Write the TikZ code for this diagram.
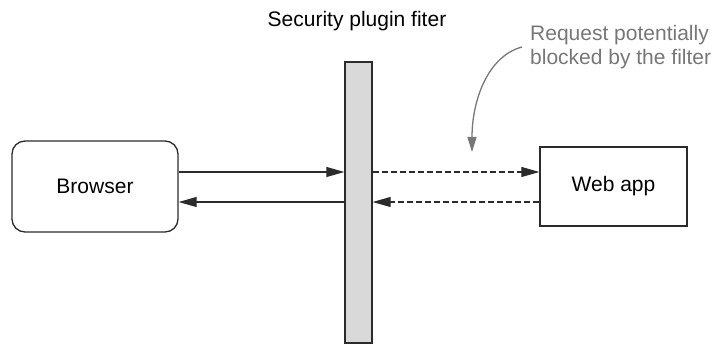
\documentclass[tikz,border=0pt]{standalone}
\usepackage{fontspec}
\setmainfont{Liberation Sans}
\usetikzlibrary{arrows.meta}
\definecolor{ink}{HTML}{2B2B2B}
\definecolor{note}{HTML}{777777}
\definecolor{barfill}{HTML}{D9D9D9}
\tikzset{
  box/.style={draw=ink, line width=1.3pt, inner sep=0pt, font=\fontsize{21}{24}\selectfont},
  flow/.style={draw=ink, line width=1.1pt, -{Triangle[length=18pt,width=10pt]}},
  dflow/.style={flow, dash pattern=on 6pt off 3pt},
  notearrow/.style={draw=note, line width=1.3pt, -{Triangle[length=15pt,width=9pt]}},
}
\begin{document}
\begin{tikzpicture}[x=1pt,y=-1pt]
\useasboundingbox (0,0) rectangle (716,347);
\node[box, rounded corners=13pt, minimum width=166pt, minimum height=91pt] (browser) at (95,186.5) {Browser};
\node[box, fill=barfill, minimum width=27pt, minimum height=281pt] (filter) at (358.5,202.5) {};
\node[box, minimum width=147pt, minimum height=79pt] (webapp) at (613.5,186.5) {Web app};
\node[font=\fontsize{21}{24}\selectfont, anchor=base, inner sep=0pt] (title) at (357,27) {Security plugin fiter};
\node[font=\fontsize{21}{24}\selectfont, text=note, anchor=base west, inner sep=0pt, align=left] (note) at (530,41) {Request potentially};
\node[font=\fontsize{21}{24}\selectfont, text=note, anchor=base west, inner sep=0pt, align=left] (note2) at (530,65) {blocked by the filter};
\coordinate (notestart) at (522,47);
\coordinate (notetip) at (472,152);
\draw[flow] ([yshift=14.5pt]browser.east) -- ([yshift=14.5pt]browser.east -| filter.west);
\draw[flow] ([yshift=-15.5pt]browser.east -| filter.west) -- ([yshift=-15.5pt]browser.east);
\draw[dflow] ([yshift=14.5pt]webapp.west -| filter.east) -- ([yshift=14.5pt]webapp.west);
\draw[dflow] ([yshift=-15.5pt]webapp.west) -- ([yshift=-15.5pt]webapp.west -| filter.east);
\draw[notearrow] (notestart) .. controls (488,56) and (472,100) .. (notetip);
\end{tikzpicture}
\end{document}
